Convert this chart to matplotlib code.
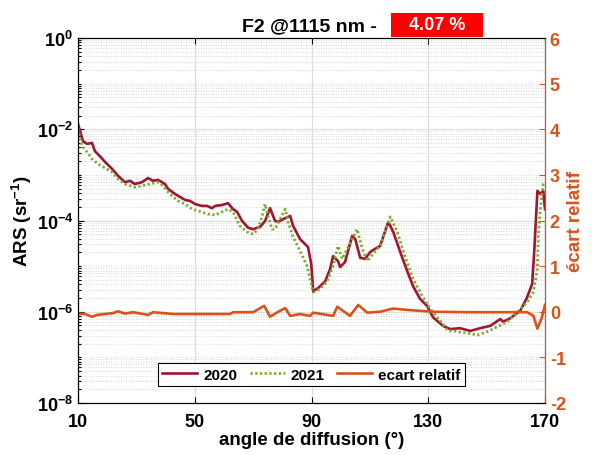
import matplotlib

matplotlib.use("Agg")
import matplotlib.pyplot as plt
import numpy as np
from matplotlib.patches import Rectangle
from matplotlib.ticker import FixedLocator, FuncFormatter, LogLocator, NullFormatter

plt.rcParams["font.family"] = ["Liberation Sans", "DejaVu Sans"]
plt.rcParams["font.weight"] = "bold"
plt.rcParams["mathtext.fontset"] = "custom"
plt.rcParams["mathtext.rm"] = "Liberation Sans:bold"
plt.rcParams["mathtext.bf"] = "Liberation Sans:bold"
plt.rcParams["mathtext.default"] = "bf"
plt.rcParams["axes.unicode_minus"] = False

# ARS 2020 : angle (deg) and log10(ARS)
angle_2020 = [10.0, 11.7, 13.1, 14.8, 15.8, 17.5, 19.3, 21.7, 23.7, 26.1, 27.8, 29.5,
              31.9, 34.0, 35.7, 37.4, 39.8, 40.9, 43.3, 46.7, 48.4, 50.1, 52.5, 54.2,
              55.9, 57.0, 59.4, 61.4, 63.1, 64.5, 66.2, 68.3, 70.0, 72.4, 74.1, 75.8,
              77.5, 78.6, 80.3, 82.7, 83.7, 86.1, 88.8, 89.9, 90.6, 92.3, 94.7, 96.4,
              97.4, 99.1, 99.8, 101.5, 103.9, 105.0, 106.7, 108.4, 110.1, 111.8, 113.5,
              116.3, 118.0, 120.4, 122.8, 124.8, 127.2, 129.6, 131.6, 135.1, 137.5,
              140.9, 144.4, 147.8, 151.2, 154.7, 155.7, 158.1, 161.5, 163.9, 165.6,
              166.3, 167.4, 168.4, 169.4, 170.0]
log_ars_2020 = [-1.885, -2.26, -2.32, -2.30, -2.48, -2.59, -2.72, -2.87, -3.02, -3.16,
                -3.13, -3.20, -3.16, -3.07, -3.13, -3.11, -3.20, -3.31, -3.42, -3.55,
                -3.57, -3.64, -3.68, -3.68, -3.73, -3.68, -3.66, -3.62, -3.75, -3.81,
                -4.01, -4.16, -4.19, -4.14, -4.01, -3.73, -4.01, -4.03, -3.97, -3.90,
                -4.12, -4.41, -4.58, -4.95, -5.55, -5.48, -5.33, -5.06, -4.78, -4.89,
                -5.02, -4.91, -4.34, -4.41, -4.82, -4.84, -4.69, -4.62, -4.56, -4.03,
                -4.25, -4.69, -5.11, -5.44, -5.72, -5.87, -6.12, -6.31, -6.38, -6.36,
                -6.42, -6.36, -6.31, -6.16, -6.22, -6.14, -5.98, -5.68, -5.39, -4.69,
                -3.35, -3.42, -3.35, -3.75]

# ARS 2021
angle_2021 = [10.0, 11.4, 13.1, 14.8, 16.9, 19.3, 21.7, 23.7, 26.1, 29.5, 31.9, 34.7,
              37.4, 39.1, 41.5, 44.3, 46.7, 49.1, 51.1, 54.6, 57.0, 59.4, 61.4, 63.1,
              65.5, 67.9, 70.0, 71.7, 73.1, 74.1, 75.1, 76.5, 77.5, 78.6, 81.0, 82.0,
              83.7, 86.1, 88.5, 89.5, 90.6, 93.0, 95.4, 97.4, 99.1, 100.5, 102.6,
              105.6, 107.4, 109.1, 111.1, 113.5, 115.2, 117.0, 119.4, 122.1, 124.8,
              127.9, 130.7, 134.1, 136.8, 138.6, 143.4, 146.8, 150.2, 153.6, 157.1,
              160.5, 163.9, 166.0, 167.4, 167.7, 168.4, 169.4, 170.0]
log_ars_2021 = [-1.99, -2.37, -2.50, -2.65, -2.76, -2.85, -2.94, -3.09, -3.20, -3.27,
                -3.24, -3.20, -3.16, -3.24, -3.42, -3.57, -3.64, -3.75, -3.79, -3.86,
                -3.88, -3.81, -3.75, -3.81, -4.12, -4.25, -4.30, -4.19, -3.90, -3.64,
                -3.90, -4.19, -4.19, -4.05, -3.75, -4.03, -4.36, -4.67, -5.00, -5.28,
                -5.57, -5.50, -5.33, -5.00, -4.56, -4.84, -4.58, -4.19, -4.62, -4.89,
                -4.73, -4.56, -4.25, -3.92, -4.25, -4.80, -5.28, -5.65, -5.94, -6.20,
                -6.42, -6.42, -6.47, -6.51, -6.44, -6.33, -6.22, -6.01, -5.79, -5.57,
                -5.06, -4.34, -3.75, -3.20, -3.16]

# relative deviation between the two years
angle_ecart = [10.0, 12.4, 14.8, 16.5, 22.0, 23.7, 26.1, 28.9, 34.0, 35.7, 42.6, 62.1,
               63.1, 70.0, 73.8, 75.8, 78.6, 81.0, 82.7, 86.1, 89.5, 90.6, 97.4, 98.8,
               103.2, 106.0, 109.1, 113.5, 117.9, 122.8, 131.7, 143.4, 154.7, 163.9,
               166.0, 167.4, 168.8, 170.0]
ecart = [-0.04, -0.05, -0.11, -0.07, -0.03, 0.01, -0.04, -0.01, -0.07, -0.01, -0.05,
         -0.05, -0.01, -0.01, 0.13, -0.11, 0.0, 0.08, -0.09, -0.05, -0.09, -0.02, -0.09,
         0.11, -0.09, 0.15, -0.02, 0.0, 0.07, 0.04, 0.0, -0.01, -0.01, -0.01, -0.09,
         -0.37, -0.15, 0.15]

x_ticks = [10, 50, 90, 130, 170]
title_text = "F2 @1115 nm -"
badge_text = "4.07 %"

c2020 = "#A2142F"
c2021 = "#77AC30"
cecart = "#D95319"

fig = plt.figure(figsize=(5.92, 4.56), dpi=100)
ax = fig.add_axes([78 / 592, 1 - 404 / 456, 467 / 592, 365 / 456])

l1, = ax.semilogy(angle_2020, 10 ** np.array(log_ars_2020), color=c2020, lw=1.9,
                  label="2020")
l2, = ax.semilogy(angle_2021, 10 ** np.array(log_ars_2021), color=c2021, lw=2.0,
                  linestyle=(0, (0.8, 0.9)), label="2021")
ax.set_xlim(10, 170)
ax.set_ylim(1e-8, 1)
ax.xaxis.set_major_locator(FixedLocator(x_ticks))
ax.yaxis.set_major_locator(FixedLocator([1e-8, 1e-6, 1e-4, 1e-2, 1e0]))
ax.yaxis.set_major_formatter(FuncFormatter(lambda v, p: r"$10^{%d}$" % round(np.log10(v))))
ax.yaxis.set_minor_locator(LogLocator(base=10, subs=np.arange(1, 10), numticks=50))
ax.yaxis.set_minor_formatter(NullFormatter())

ax.grid(True, which="major", color="#dcdcdc", lw=0.8)
ax.grid(True, which="minor", axis="y", color="#c8c8c8", lw=0.6, linestyle=(0, (1, 2)))
ax.tick_params(axis="both", which="both", direction="in", top=True, labelsize=13,
               width=0.8, length=4)
ax.tick_params(axis="y", which="minor", length=2.5)
ax.tick_params(axis="x", pad=7)
for lbl in ax.get_xticklabels() + ax.get_yticklabels():
    lbl.set_fontweight("bold")

ax.set_xlabel("angle de diffusion (°)", fontsize=13.5, fontweight="bold", labelpad=1)
ax.set_ylabel(r"ARS (sr$^{-1}$)", fontsize=13.5, fontweight="bold", labelpad=2)

ax2 = ax.twinx()
l3, = ax2.plot(angle_ecart, ecart, color=cecart, lw=1.9, label="ecart relatif")
ax2.set_ylim(-2, 6)
ax2.set_yticks(range(-2, 7))
ax2.tick_params(axis="y", colors=cecart, direction="in", labelsize=13, width=0.8,
                length=4)
for lbl in ax2.get_yticklabels():
    lbl.set_fontweight("bold")
ax2.spines["right"].set_color(cecart)
ax2.set_ylabel("écart relatif", color=cecart, fontsize=13.5, fontweight="bold",
               labelpad=1)

leg = ax2.legend(handles=[l1, l2, l3], loc="lower center", bbox_to_anchor=(0.5, 0.025),
                 ncol=3, fontsize=11, fancybox=False, edgecolor="black",
                 handlelength=2.3, columnspacing=0.8, handletextpad=0.4,
                 borderpad=0.3, framealpha=1)
leg.get_frame().set_linewidth(0.8)
for t in leg.get_texts():
    t.set_fontweight("bold")

fig.text(377 / 592, 1 - 27 / 456, title_text, ha="right", va="center", fontsize=14,
         fontweight="bold")
fig.patches.append(Rectangle((391 / 592, 1 - 38 / 456), 92 / 592, 24 / 456,
                             transform=fig.transFigure, facecolor="#FF0000",
                             edgecolor="none"))
fig.text(437 / 592, 1 - 26 / 456, badge_text, ha="center", va="center", fontsize=13,
         fontweight="bold", color="white")

fig.savefig("out.png", dpi=100)
